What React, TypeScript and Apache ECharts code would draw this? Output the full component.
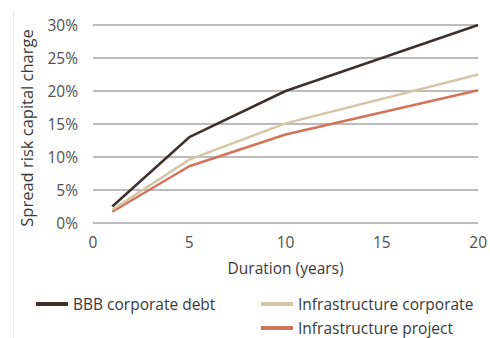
import React, { useEffect, useRef } from "react";
import * as echarts from "echarts";

const durations = [1, 5, 10, 20];
const bbbCorporateDebt = [2.5, 13, 20, 30];
const infraCorporate = [2.0, 9.6, 15.1, 22.5];
const infraProject = [1.7, 8.6, 13.4, 20.1];
const seriesNames = ["BBB corporate debt", "Infrastructure corporate", "Infrastructure project"];
const colors = ["#3b322d", "#d5c6a6", "#d2735a"];

const FONT = "'Open Sans', 'Noto Sans', sans-serif";

export default function App() {
  const ref = useRef<HTMLDivElement>(null);
  useEffect(() => {
    if (!ref.current) return;
    const chart = echarts.init(ref.current, undefined, { renderer: "svg" });
    const dataSets = [bbbCorporateDebt, infraCorporate, infraProject];
    const legendBase = {
      icon: "rect",
      itemWidth: 32,
      itemHeight: 4,
      itemGap: 0,
      textStyle: { fontFamily: FONT, fontSize: 15.5, color: "#3a3a3a" },
      selectedMode: false,
      padding: 0,
    };
    const legendPos = [
      [36, 296],
      [261, 296],
      [261, 320],
    ];
    chart.setOption({
      animation: false,
      backgroundColor: "#ffffff",
      grid: { left: 93, right: 8, top: 25, bottom: 115 },
      xAxis: {
        type: "value",
        min: 0,
        max: 20,
        interval: 5,
        name: "Duration (years)",
        nameLocation: "middle",
        nameGap: 37,
        nameTextStyle: { fontFamily: FONT, fontSize: 15.5, color: "#3a3a3a" },
        axisLine: { show: false },
        axisTick: { show: false },
        splitLine: { show: false },
        axisLabel: { fontFamily: FONT, fontSize: 15.5, color: "#505050", margin: 11 },
      },
      yAxis: {
        type: "value",
        min: 0,
        max: 30,
        interval: 5,
        name: "Spread risk capital charge",
        nameLocation: "middle",
        nameGap: 58,
        nameTextStyle: { fontFamily: FONT, fontSize: 16.5, color: "#3a3a3a", padding: [0, 8, 0, 0] },
        axisLine: { show: false },
        axisTick: { show: false },
        splitLine: { lineStyle: { color: "#a6a6a6", width: 1.5 } },
        axisLabel: { fontFamily: FONT, fontSize: 15.5, color: "#505050", margin: 15, formatter: "{value}%" },
      },
      legend: seriesNames.map((name, i) => ({
        ...legendBase,
        left: legendPos[i][0],
        top: legendPos[i][1],
        data: [name],
      })),
      graphic: [
        {
          type: "line",
          shape: { x1: 13.5, y1: 12, x2: 13.5, y2: 338 },
          style: { stroke: "#e8ebf0", lineWidth: 1 },
          silent: true,
        },
      ],
      series: seriesNames.map((name, i) => ({
        name,
        type: "line",
        data: durations.map((d, j) => [d, dataSets[i][j]]),
        showSymbol: false,
        symbol: "none",
        lineStyle: { color: colors[i], width: 2.5 },
        itemStyle: { color: colors[i] },
        z: 10 - i,
      })),
    });
    return () => chart.dispose();
  }, []);
  return <div ref={ref} style={{ width: 490, height: 338, position: "absolute", left: 0, top: 0 }} />;
}
